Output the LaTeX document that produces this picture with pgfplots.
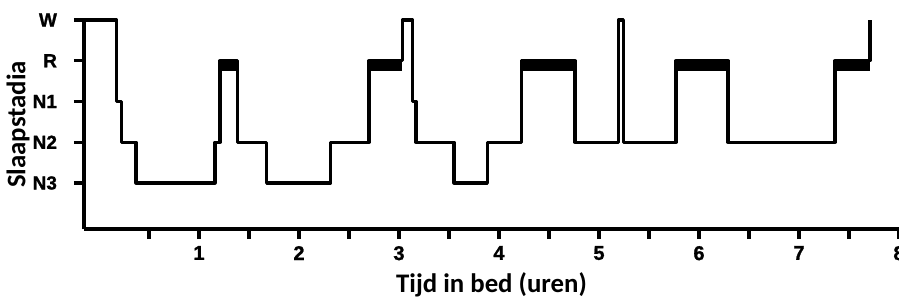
\documentclass[border=0pt]{standalone}
\usepackage{pgfplots}
\pgfplotsset{compat=1.18}
\usepackage{fontspec}
\setmainfont{Liberation Sans}
\newfontfamily\labfont{Carlito}
\newfontfamily\tickfont{Liberation Sans Bold}[FakeBold=1.2]
\begin{document}
\begin{tikzpicture}
\begin{axis}[
  name=ax,
  x=50pt, y=20.375pt,
  xmin=-0.15, xmax=8, ymin=-0.13, ymax=5,
  axis lines=left,
  axis line style={-, line width=1.6pt, black},
  clip=false,
  xtick={1,2,3,4,5,6,7,8},
  minor xtick={0.5,1.5,2.5,3.5,4.5,5.5,6.5,7.5},
  ytick={1,2,3,4,5}, yticklabels={N3,N2,N1,R,W},
  tick align=outside,
  major tick length=5pt, minor tick length=5pt,
  tick style={black, line width=1.6pt},
  /pgf/number format/assume math mode=true,
  ticklabel style={font=\tickfont\fontsize{10}{10}\selectfont},
  yticklabel style={font=\tickfont\fontsize{9.5}{10}\selectfont, xshift=-5pt},
  xlabel={Tijd in bed (uren)}, ylabel={Slaapstadia},
  label style={font=\labfont\bfseries\fontsize{13.4}{14}\selectfont, inner sep=0pt},
  xlabel style={at={(axis description cs:0.5,0)}, anchor=north, yshift=-21.5pt},
  ylabel style={at={(axis description cs:-0.0663,0.5)}, anchor=south},
]
% REM bands
\addplot[line width=6pt, black, forget plot] coordinates {(1.21,3.89) (1.383,3.89)};
\addplot[line width=6pt, black, forget plot] coordinates {(2.70,3.89) (3.033,3.89)};
\addplot[line width=6pt, black, forget plot] coordinates {(4.227,3.89) (4.76,3.89)};
\addplot[line width=6pt, black, forget plot] coordinates {(5.77,3.89) (6.29,3.89)};
\addplot[line width=6pt, black, forget plot] coordinates {(7.36,3.89) (7.71,3.89)};
% hypnogram
\addplot[const plot, line width=1.6pt, black, line join=round] coordinates {
(-0.15,5) (0.177,3) (0.227,2) (0.37,1) (1.16,2) (1.21,4) (1.383,2) (1.677,1)
(2.317,2) (2.70,4) (3.033,5) (3.137,3) (3.17,2) (3.55,1) (3.883,2) (4.227,4)
(4.76,2) (5.193,5) (5.243,2) (5.77,4) (6.29,2) (7.36,4) (7.71,5)
};
\end{axis}
\pgfresetboundingbox
\path ([shift={(-42pt,-35.5pt)}]ax.south west) rectangle ([shift={(0pt,10pt)}]ax.north east);
\end{tikzpicture}
\end{document}
